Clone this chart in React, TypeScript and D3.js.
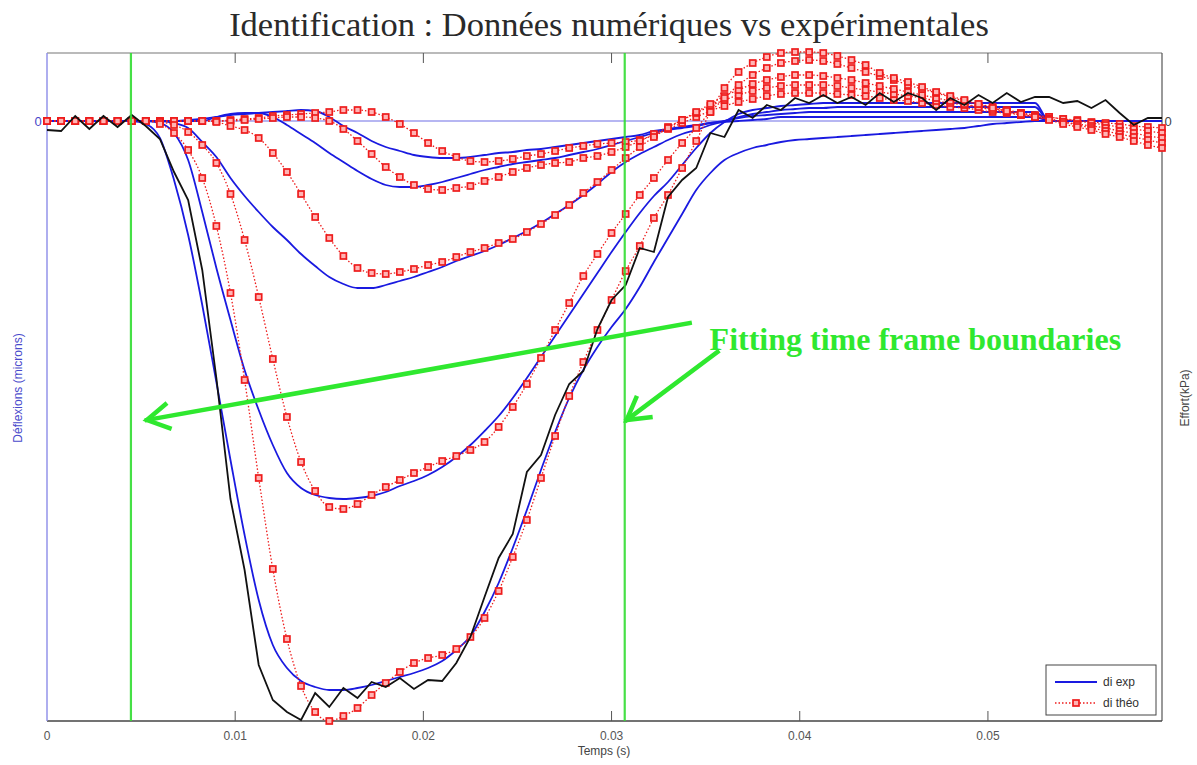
import React from 'react';
import * as d3 from 'd3';

// ---------- data ----------
// sampling instants (s): one sample every 0.75 ms, 80 samples
const SAMPLE_STEP = 0.00075;
const time: number[] = d3.range(80).map((i) => i * SAMPLE_STEP);

const xTicks = [0, 0.01, 0.02, 0.03, 0.04, 0.05];
const xTickLabels = ['0', '0.01', '0.02', '0.03', '0.04', '0.05'];
const fitBounds = [0.00446, 0.0307]; // fitting time frame boundaries (s)

// deflections (microns, positive = downward), measured "di exp"
const exp1 = [0,0,0,0,0,0,0,0,0,0, -1,-2,-4,-6,-7,-8,-9,-10,-11,-10, -4,5,12,20,26,30,34,36,37,37, 36,34,32,31,29,28,26,24,22,20, 18,16,14,10,8,6,4,2,1,0, -1,-2,-4,-4,-4,-4,-4,-4,-4,-4, -4,-4,-4,-4,-4,-4,-4,-4,-4,-4, -4,0,0,0,0,0,0,0,0,0];
const exp2 = [0,0,0,0,0,0,0,0,0,0, 0,0,-4,-7,-8,-8,-4,4,13,22, 32,41,50,58,64,66,66,64,61,57, 53,49,46,43,41,39,37,34,31,28, 24,20,16,12,9,7,5,2,0,-3, -5,-6,-7,-8,-9,-9,-9,-9,-9,-9, -9,-9,-9,-9,-9,-9,-9,-9,-9,-9, -9,0,0,0,0,0,0,0,0,0];
const exp3 = [0,0,0,0,0,0,0,0,0,2, 7,21,36,57,75,91,106,119,133,145, 156,163,167,167,164,160,156,151,146,140, 135,130,124,117,110,102,93,84,74,63, 51,41,33,26,19,13,9,4,0,-4, -7,-9,-11,-12,-13,-13,-14,-14,-14,-14, -14,-14,-14,-14,-14,-14,-14,-14,-14,-14, -14,0,0,0,0,0,0,0,0,0];
const exp4 = [0,0,0,0,0,0,0,0,2,12, 39,91,147,199,249,289,324,352,367,374, 377,378,377,375,371,365,360,354,346,336, 324,310,295,277,257,236,215,194,173,152, 131,111,92,75,61,44,27,12,1,-7, -11,-13,-15,-16,-17,-18,-18,-18,-18,-18, -18,-18,-18,-18,-18,-18,-18,-18,-18,-18, -18,0,0,0,0,0,0,0,0,0];
const exp5 = [0,0,0,0,0,0,0,3,17,59, 114,184,261,339,414,479,524,547,560,566, 569,569,567,564,560,556,552,547,540,529, 515,491,462,427,389,349,311,277,249,226, 206,188,166,141,117,93,69,52,39,32, 27,24,21,19,18,17,16,15,14,13, 12,11,10,9,8,7,5,3,2,1, 0,0,0,0,0,0,0,0,0,0];

// deflections (microns), computed "di théo"
const theo1 = [0,0,0,0,0,0,0,0,0,0, 0,0,0,-1,-2,-3,-5,-6,-7,-8, -9,-11,-11,-9,-4,3,12,22,30,36, 40,41,40,38,35,33,30,27,25,23, 22,21,19,14,8,2,-4,-10,-15,-19, -22,-25,-27,-28,-28,-28,-27,-26,-25,-23, -21,-20,-18,-16,-14,-13,-11,-9,-8,-6, -5,-4,-2,-1,1,2,3,5,6,7];
const theo2 = [0,0,0,0,0,0,0,0,0,0, 0,0,0,0,-1,-2,-3,-4,-4,-3, 0,8,20,33,46,56,64,68,69,67, 65,60,56,51,47,44,42,41,37,35, 31,26,20,13,6,-1,-8,-15,-21,-26, -30,-33,-35,-36,-36,-36,-35,-33,-31,-29, -27,-25,-23,-20,-18,-16,-14,-12,-10,-8, -6,-4,-2,0,2,4,6,8,10,12];
const theo3 = [0,0,0,0,0,0,0,0,0,0, 0,0,1,5,9,17,32,51,73,96, 117,135,147,152,153,151,148,144,141,136, 131,127,122,118,111,103,94,84,72,61, 49,37,26,16,7,-1,-9,-17,-25,-31, -37,-41,-44,-46,-46,-45,-43,-41,-38,-35, -32,-29,-26,-23,-20,-17,-14,-11,-9,-6, -4,-2,1,3,5,7,10,12,15,17];
const theo4 = [0,0,0,0,0,0,0,0,1,4, 11,24,42,73,119,176,238,296,341,370, 386,388,383,374,366,359,352,346,340,335, 329,321,306,286,263,237,209,182,155,133, 112,93,74,57,39,22,7,-9,-23,-36, -46,-53,-58,-60,-61,-60,-57,-53,-49,-45, -41,-36,-32,-28,-24,-20,-17,-14,-11,-8, -5,-2,1,4,7,10,13,16,19,22];
const theo5 = [0,0,0,0,0,0,0,0,3,12, 29,57,105,172,259,357,448,518,565,591, 600,595,587,574,562,551,542,537,534,528, 516,497,470,436,399,357,315,275,241,209, 179,150,125,97,74,47,20,-9,-33,-49, -58,-64,-68,-69,-69,-68,-65,-61,-56,-48, -43,-39,-34,-29,-25,-21,-17,-13,-10,-7, -4,-1,3,6,9,13,16,20,24,27];

// applied load (kPa, right axis)
const effort = [9,10,-5,8,-5,6,-6,5,18,51, 79,149,257,378,449,544,579,591,599,572, 586,567,577,561,566,557,568,559,560,542, 516,476,437,413,351,334,294,263,250,208, 179,164,127,131,76,59,47,12,16,-11, -3,-16,-11,-23,-18,-26,-18,-24,-16,-28, -19,-28,-23,-11,-23,-16,-26,-18,-28,-19, -24,-24,-18,-20,-13,-21,-8,4,-3,-3];

const expSeries = [exp1, exp2, exp3, exp4, exp5];
const theoSeries = [theo1, theo2, theo3, theo4, theo5];

// annotation, in data coordinates [t (s), deflection]
const annoText = { t: 0.03521, d: 219, label: 'Fitting time frame boundaries' };
const annoArrows = [
  { from: [0.03415, 202], to: [0.00531, 299] },
  { from: [0.03563, 231], to: [0.0308, 299] },
];

const legendItems = ['di exp', 'di th\u00e9o'];

// ---------- chart ----------
const BLUE = '#1a1ae0';
const RED = '#ee1c1c';
const GREEN = '#2fe82f';

export default function App() {
  const left = 47, right = 1162, top = 53, bottom = 721;
  const x = d3.scaleLinear().domain([0, 0.05925]).range([left, right]);
  const y = d3.scaleLinear().domain([-68, 600]).range([top, bottom]);
  const yR = d3.scaleLinear().domain([-68, 600]).range([top, bottom]);

  const lineL = d3.line<number>().x((_, i) => x(time[i])).y((d) => y(d)).curve(d3.curveMonotoneX);
  const lineR = d3.line<number>().x((_, i) => x(time[i])).y((d) => yR(d));

  const ms = 6;
  const arrowHead = (fx: number, fy: number, tx: number, ty: number) => {
    const ang = Math.atan2(fy - ty, fx - tx);
    const L = 24, a = (30 * Math.PI) / 180;
    const p1 = [tx + L * Math.cos(ang + a), ty + L * Math.sin(ang + a)];
    const p2 = [tx + L * Math.cos(ang - a), ty + L * Math.sin(ang - a)];
    return `M${p1[0]},${p1[1]}L${tx},${ty}L${p2[0]},${p2[1]}`;
  };

  const lx0 = 1055, lx1 = 1097, ly = [682, 703];

  return (
    <svg width={1197} height={765} style={{ position: 'absolute', left: 0, top: 0, background: '#fff' }}
      fontFamily="'Liberation Sans', Arial, sans-serif">
      <rect x={0} y={0} width={1197} height={765} fill="#fff" />
      {/* title */}
      <text x={609} y={36} textAnchor="middle" fontFamily="'Liberation Serif', serif" fontSize={34.5} fill="#2a2a2a">
        Identification : Données numériques vs expérimentales
      </text>

      {/* zero line */}
      <line x1={left} x2={right} y1={y(0)} y2={y(0)} stroke="#6f6fe6" strokeWidth={1.2} />

      {/* axes box */}
      <line x1={left} x2={right} y1={top} y2={top} stroke="#777" strokeWidth={1.2} />
      <line x1={right} x2={right} y1={top} y2={bottom} stroke="#555" strokeWidth={1.2} />
      <line x1={left} x2={right} y1={bottom} y2={bottom} stroke="#444" strokeWidth={1.3} />
      <line x1={left} x2={left} y1={top} y2={bottom} stroke="#8c8ce8" strokeWidth={1.4} />

      {xTicks.map((t, i) => (
        <g key={i}>
          {i > 0 && <line x1={x(t)} x2={x(t)} y1={bottom} y2={bottom - 10} stroke="#555" />}
          {i > 0 && <line x1={x(t)} x2={x(t)} y1={top} y2={top + 10} stroke="#555" />}
          <text x={x(t)} y={740} textAnchor="middle" fontSize={12} fill="#555">{xTickLabels[i]}</text>
        </g>
      ))}
      <text x={604} y={755} textAnchor="middle" fontSize={12} fill="#444">Temps (s)</text>
      <text x={38} y={y(0) + 5} textAnchor="middle" fontSize={13} fill="#4646c8">0</text>
      <text x={1168} y={yR(0) + 5} textAnchor="middle" fontSize={13} fill="#444">0</text>
      <text transform={`translate(22,388) rotate(-90)`} textAnchor="middle" fontSize={12} fill="#4a4acc">Déflexions (microns)</text>
      <text transform={`translate(1189,398) rotate(-90)`} textAnchor="middle" fontSize={12} fill="#444">Effort(kPa)</text>

      {/* measured deflections */}
      {expSeries.map((s, i) => (
        <path key={'e' + i} d={lineL(s) || ''} fill="none" stroke={BLUE} strokeWidth={1.8} />
      ))}

      {/* theoretical deflections */}
      {theoSeries.map((s, i) => (
        <g key={'t' + i}>
          <path d={lineL(s) || ''} fill="none" stroke={RED} strokeWidth={1.3} strokeDasharray="1.5 2" />
          {s.map((v, j) => (
            <rect key={j} x={x(time[j]) - ms / 2} y={y(v) - ms / 2} width={ms} height={ms}
              fill="#ffb4b4" stroke={RED} strokeWidth={1.7} />
          ))}
        </g>
      ))}

      {/* effort */}
      <path d={lineR(effort) || ''} fill="none" stroke="#111" strokeWidth={1.8} />

      {/* fitting boundaries */}
      {fitBounds.map((t, i) => (
        <line key={'f' + i} x1={x(t)} x2={x(t)} y1={top} y2={bottom} stroke="#33dd33" strokeWidth={2.2} opacity={0.9} />
      ))}

      {/* annotation */}
      {annoArrows.map((a, i) => {
        const fx = x(a.from[0]), fy = y(a.from[1]), tx = x(a.to[0]), ty = y(a.to[1]);
        return (
          <g key={'a' + i} stroke={GREEN} strokeWidth={4.5} fill="none" strokeLinecap="square">
            <line x1={fx} y1={fy} x2={tx} y2={ty} />
            <path d={arrowHead(fx, fy, tx, ty)} />
          </g>
        );
      })}
      <text x={x(annoText.t)} y={y(annoText.d) + 10} fontFamily="'Liberation Serif', serif" fontWeight="bold"
        fontSize={32} fill={GREEN}>{annoText.label}</text>

      {/* legend */}
      <rect x={1046} y={665} width={110} height={50} fill="#fff" stroke="#444" strokeWidth={1} />
      <line x1={lx0} x2={lx1} y1={ly[0]} y2={ly[0]} stroke={BLUE} strokeWidth={2} />
      <line x1={lx0} x2={lx1} y1={ly[1]} y2={ly[1]} stroke={RED} strokeWidth={1.3} strokeDasharray="1.5 2" />
      <rect x={(lx0 + lx1) / 2 - 3} y={ly[1] - 3} width={6} height={6} fill="#ffb4b4" stroke={RED} strokeWidth={1.7} />
      {legendItems.map((s, i) => (
        <text key={s} x={1103} y={ly[i] + 4} fontSize={12} fill="#333">{s}</text>
      ))}
    </svg>
  );
}
